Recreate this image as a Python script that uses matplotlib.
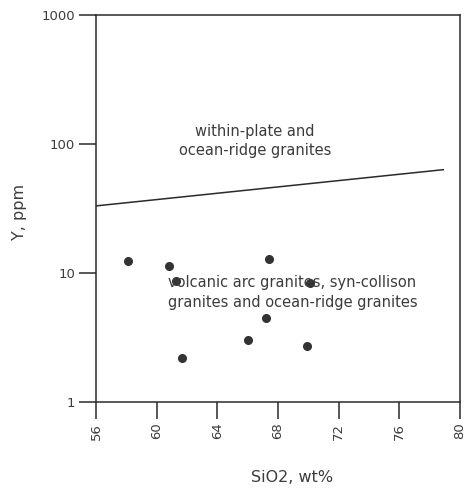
import matplotlib
matplotlib.use("Agg")
import matplotlib.pyplot as plt
from matplotlib.ticker import FixedLocator, NullLocator

# Sample data
SIO2 = [58.1, 60.8, 67.4, 61.3, 70.1, 67.2, 66.0, 69.9, 61.7]
Y_PPM = [12.4, 11.2, 12.8, 8.6, 8.3, 4.5, 3.0, 2.7, 2.2]

# Boundary between the two fields
BOUNDARY_X = [56, 78.9]
BOUNDARY_Y = [33, 63]

X_TICKS = [56, 60, 64, 68, 72, 76, 80]
Y_TICKS = [1, 10, 100, 1000]
INK = "#2a2a2a"
TXT = "#3c3c3c"

fig = plt.figure(figsize=(4.66, 4.93), dpi=100)
ax = fig.add_axes([0.206, 0.185, 0.781, 0.785])

ax.set_yscale("log")
ax.set_xlim(56, 80)
ax.set_ylim(1, 1000)

ax.plot(BOUNDARY_X, BOUNDARY_Y, color=INK, lw=1.1)
ax.plot(SIO2, Y_PPM, "o", color="#333333", ms=5.5, mec="#333333")

ax.text(66.5, 105, "within-plate and\nocean-ridge granites", ha="center",
        va="center", fontsize=10.5, color=TXT, linespacing=1.4)
ax.text(60.75, 7.06, "volcanic arc granites, syn-collison\ngranites and ocean-ridge granites",
        ha="left", va="center", fontsize=10.5, color=TXT, linespacing=1.4)

ax.xaxis.set_major_locator(FixedLocator(X_TICKS))
ax.yaxis.set_major_locator(FixedLocator(Y_TICKS))
ax.yaxis.set_minor_locator(NullLocator())
ax.set_xticklabels([str(v) for v in X_TICKS], rotation=90)
ax.set_yticklabels([str(v) for v in Y_TICKS])
ax.tick_params(axis="both", direction="out", length=12, width=1.1,
               color=INK, labelcolor=TXT, labelsize=9.5, pad=3)

for s in ax.spines.values():
    s.set_color(INK)
    s.set_linewidth(1.1)

ax.set_xlabel("SiO2, wt%", fontsize=11.5, color=TXT)
ax.set_ylabel("Y, ppm", fontsize=11.5, color=TXT)
ax.xaxis.set_label_coords(0.54, -0.175)
ax.yaxis.set_label_coords(-0.19, 0.49)

fig.savefig("out.png", dpi=100)
